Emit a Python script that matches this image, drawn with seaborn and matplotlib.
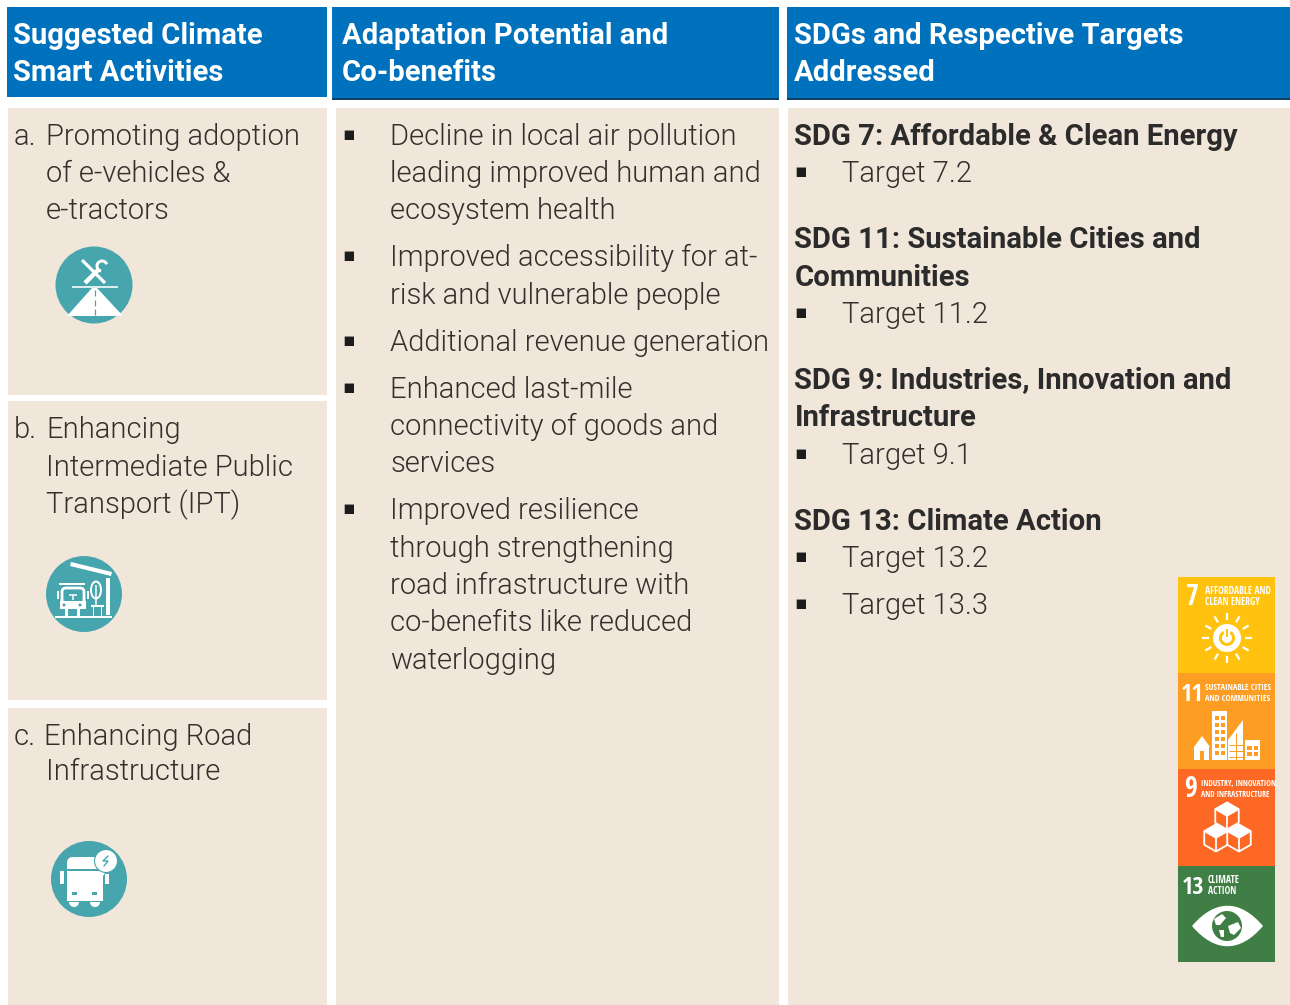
import numpy as np
import matplotlib
matplotlib.use('Agg')
import matplotlib.pyplot as plt
import seaborn as sns
from matplotlib.patches import Rectangle, Circle, Polygon, FancyBboxPatch, PathPatch, Wedge, Ellipse
from matplotlib.path import Path

# Table content
HEADERS = [
    ['Suggested Climate', 'Smart Activities'],
    ['Adaptation Potential and', 'Co-benefits'],
    ['SDGs and Respective Targets', 'Addressed'],
]
ACTIVITIES = [
    ('a.', ['Promoting adoption', 'of e-vehicles &', 'e-tractors']),
    ('b.', ['Enhancing', 'Intermediate Public', 'Transport (IPT)']),
    ('c.', ['Enhancing Road', 'Infrastructure']),
]
BENEFITS = [
    ['Decline in local air pollution', 'leading improved human and', 'ecosystem health'],
    ['Improved accessibility for at-', 'risk and vulnerable people'],
    ['Additional revenue generation'],
    ['Enhanced last-mile', 'connectivity of goods and', 'services'],
    ['Improved resilience', 'through strengthening', 'road infrastructure with', 'co-benefits like reduced', 'waterlogging'],
]
SDGS = [
    (['SDG 7: Affordable & Clean Energy'], ['Target 7.2']),
    (['SDG 11: Sustainable Cities and', 'Communities'], ['Target 11.2']),
    (['SDG 9: Industries, Innovation and', 'Infrastructure'], ['Target 9.1']),
    (['SDG 13: Climate Action'], ['Target 13.2', 'Target 13.3']),
]
TILE_NUMBERS = ['7', '11', '9', '13']
TILE_LABELS = [
    ['AFFORDABLE AND', 'CLEAN ENERGY'],
    ['SUSTAINABLE CITIES', 'AND COMMUNITIES'],
    ['INDUSTRY, INNOVATION', 'AND INFRASTRUCTURE'],
    ['CLIMATE', 'ACTION'],
]

BLUE = '#0071BC'
BEIGE = '#F0E6D9'
INK = '#332F2D'
TEAL = '#47A5AD'
TILE_COLORS = ['#FFC20E', '#FD9D24', '#FD6925', '#3F7E44']
NARROW = ['Open Sans Condensed', 'Roboto Condensed', 'DejaVu Sans']

sns.set_theme(style='white')
plt.rcParams['font.family'] = ['Roboto', 'DejaVu Sans']

fig = plt.figure(figsize=(12.9, 10.05), dpi=100, facecolor='white')
ax = fig.add_axes([0, 0, 1, 1])
ax.set_xlim(0, 1290)
ax.set_ylim(1005, 0)
ax.axis('off')
sns.despine(ax=ax, left=True, bottom=True)


def rect(x0, y0, x1, y1, color, z=1):
    ax.add_patch(Rectangle((x0, y0), x1 - x0, y1 - y0, fc=color, ec='none', zorder=z))


def line(x0, y0, x1, y1, color, w, z=4, cap='butt'):
    ax.plot([x0, x1], [y0, y1], color=color, lw=w * 0.72, solid_capstyle=cap, zorder=z)


def body(x, y, s):
    ax.text(x, y, s, fontsize=21.0, fontweight=300, color=INK, va='baseline', zorder=5)


def bold(x, y, s, color):
    ax.text(x, y, s, fontsize=21.1, fontweight='bold', color=color, va='baseline', zorder=5)


def bullet(x, y):
    ax.text(x, y, '\u25aa', fontsize=13.5, family='DejaVu Sans', color='#1c1c1c', va='baseline', ha='center', zorder=5)


def draw_frame():
    rect(7, 7, 327, 97, BLUE)
    rect(332, 7, 779, 99, BLUE)
    rect(787, 7, 1290, 99, BLUE)
    rect(332, 98, 779, 100, '#123f66')
    rect(787, 98, 1290, 100, '#123f66')
    rect(8, 108, 327, 395, BEIGE)
    rect(8, 401, 327, 700, BEIGE)
    rect(8, 708, 327, 1005, BEIGE)
    rect(336, 108, 779, 1005, BEIGE)
    rect(788, 108, 1290, 1005, BEIGE)
    for x, lines in zip([13, 342, 794], HEADERS):
        for y, s in zip([44, 81], lines):
            bold(x, y, s, 'white')


def draw_text():
    # column one, baselines follow the row tops
    starts = [[145, 182, 219], [438, 476, 513], [745, 780]]
    first_x = [46, 46, 44]
    for (mark, lines), ys, fx in zip(ACTIVITIES, starts, first_x):
        body(14, ys[0], mark)
        for k, (y, s) in enumerate(zip(ys, lines)):
            body(fx if k == 0 else 46, y, s)
    # column two
    ys = [[145, 182, 219], [266, 304], [351], [398, 435, 472], [519, 557, 594, 631, 669]]
    for lines, yy in zip(BENEFITS, ys):
        bullet(348.5, yy[0] - 5)
        for y, s in zip(yy, lines):
            body(390, y, s)
    # column three
    head_ys = [[145], [248, 286], [389, 426], [530]]
    target_ys = [[182], [323], [464], [567, 614]]
    for (heads, targets), hy, ty in zip(SDGS, head_ys, target_ys):
        for y, s in zip(hy, heads):
            bold(794.5, y - 0.5, s, '#2b2b2b')
        for y, s in zip(ty, targets):
            bullet(801, y - 5)
            body(842, y, s)


def icon_tools():
    ax.add_patch(Circle((94, 285), 38.5, fc=TEAL, ec='none', zorder=2))
    line(72, 287, 118, 287, 'white', 1.6)
    ax.add_patch(Polygon([(92, 288), (97, 288), (123, 316), (67, 316)], fc='white', ec='none', zorder=3))
    for y0 in (290, 300, 309):
        line(95, y0, 95, y0 + 6, TEAL, 1.2)
    line(82, 260, 105, 283, 'white', 3.2)
    line(85, 283, 99, 269, 'white', 4.5)
    ax.add_patch(Wedge((102, 266), 6.5, 100, 340, width=3, fc='white', ec='none', zorder=4))


def icon_stop():
    ax.add_patch(Circle((84, 594), 38, fc=TEAL, ec='none', zorder=2))
    ax.add_patch(Polygon([(71, 562), (112, 572), (111, 576), (70, 566)], fc='white', ec='none', zorder=3))
    rect(106, 578, 110, 615, 'white', 3)
    line(55, 617, 112, 617, 'white', 2, 3)
    line(59, 584, 85, 584, 'white', 2, 3)
    ax.add_patch(FancyBboxPatch((62, 588), 22, 19, boxstyle='round,pad=0,rounding_size=4', fc='none', ec='white', lw=2, zorder=3))
    rect(60, 601, 86, 609, 'white', 3)
    rect(65, 609, 68, 616, 'white', 3)
    rect(77, 609, 80, 616, 'white', 3)
    rect(57, 591, 59, 599, 'white', 3)
    rect(87, 591, 89, 599, 'white', 3)
    line(69, 595, 77, 595, 'white', 1.5, 3)
    line(73, 595, 73, 600, 'white', 1.5, 3)
    ax.add_patch(Circle((64, 605), 1.5, fc=TEAL, ec='none', zorder=4))
    ax.add_patch(Circle((80, 605), 1.5, fc=TEAL, ec='none', zorder=4))
    ax.add_patch(Ellipse((96, 590), 10, 17, fc=TEAL, ec='white', lw=1.4, zorder=3))
    line(96, 585, 96, 607, 'white', 1.5, 4)
    line(91, 606, 104, 606, 'white', 2, 3)
    line(93, 606, 93, 616, 'white', 1, 3)
    line(101, 606, 101, 616, 'white', 1, 3)


def icon_bus():
    ax.add_patch(Circle((89, 879), 38, fc=TEAL, ec='none', zorder=2))
    ax.add_patch(FancyBboxPatch((67, 857), 38, 20, boxstyle='round,pad=0,rounding_size=6', fc='white', ec='none', zorder=3))
    rect(67, 869, 103, 871, TEAL, 3)
    rect(67, 871, 103, 901, 'white', 3)
    rect(60, 871, 64, 884, 'white', 3)
    rect(105, 874, 109, 884, 'white', 3)
    rect(72, 892, 77, 895, TEAL, 4)
    rect(92, 892, 97, 895, TEAL, 4)
    ax.add_patch(Wedge((74, 902), 5, 0, 180, fc='white', ec='none', zorder=3))
    ax.add_patch(Wedge((95, 902), 5, 0, 180, fc='white', ec='none', zorder=3))
    ax.add_patch(Circle((106, 861), 11.5, fc='white', ec=TEAL, lw=0.8, zorder=4))
    ax.plot([108, 103, 108, 104], [856, 861, 861, 866], color=TEAL, lw=1, zorder=5)


def tile_sun():
    c = (1227, 638)
    ax.add_patch(Circle(c, 14, fc='white', ec='none', zorder=3))
    ax.add_patch(Wedge(c, 8, -60, 240, width=3, fc=TILE_COLORS[0], ec='none', zorder=4))
    line(c[0], c[1] - 9, c[0], c[1] - 1, TILE_COLORS[0], 2, 4)
    for deg in range(0, 360, 30):
        a = np.deg2rad(deg)
        line(c[0] + 18 * np.cos(a), c[1] + 18 * np.sin(a), c[0] + 25 * np.cos(a), c[1] + 25 * np.sin(a), 'white', 2.2, 3)


def tile_city():
    tone = TILE_COLORS[1]
    rect(1194, 747, 1209, 760, 'white', 3)
    ax.add_patch(Polygon([(1194, 747), (1202, 736), (1210, 747)], fc='white', ec='none', zorder=3))
    rect(1200, 751, 1204, 760, tone, 4)
    rect(1212, 711, 1227, 760, 'white', 3)
    for r in range(6):
        for x in (1215, 1221):
            rect(x, 716 + r * 7, x + 3.5, 720 + r * 7, tone, 4)
    ax.add_patch(Polygon([(1228, 740), (1243, 720), (1243, 760), (1228, 760)], fc='white', ec='none', zorder=3))
    for r in range(3):
        line(1229, 745 + r * 6, 1243, 745 + r * 6, tone, 1, 4)
    line(1236, 733, 1236, 760, tone, 1, 4)
    rect(1245, 740, 1260, 760, 'white', 3)
    for y in (746, 752):
        rect(1247, y, 1251.5, y + 3.5, tone, 4)
        rect(1253.5, y, 1258, y + 3.5, tone, 4)


def cube(cx, cy, r):
    dx = r * 0.87
    outer = [(cx, cy - r), (cx + dx, cy - r / 2), (cx + dx, cy + r / 2), (cx, cy + r), (cx - dx, cy + r / 2), (cx - dx, cy - r / 2)]
    ax.add_patch(Polygon(outer, fc=TILE_COLORS[2], ec='white', lw=1.3, joinstyle='round', zorder=3))
    ax.add_patch(Polygon([outer[0], outer[1], (cx, cy), outer[5]], fc='white', ec='white', lw=1, zorder=4))
    line(cx, cy, cx, cy + r, 'white', 1.8, 4)


def tile_cubes():
    cube(1227, 816, 13.5)
    cube(1216, 838, 13.5)
    cube(1239, 838, 13.5)


def tile_eye():
    verts = [(1192, 926), (1215, 899), (1240, 899), (1263, 926), (1240, 953), (1215, 953), (1192, 926)]
    codes = [Path.MOVETO, Path.CURVE4, Path.CURVE4, Path.CURVE4, Path.CURVE4, Path.CURVE4, Path.CURVE4]
    ax.add_patch(PathPatch(Path(verts, codes), fc='white', ec='none', zorder=3))
    ax.add_patch(Circle((1227, 926), 15, fc=TILE_COLORS[3], ec='none', zorder=4))
    ax.add_patch(Polygon([(1214, 919), (1222, 914), (1226, 918), (1220, 925), (1216, 925)], fc='white', ec='none', zorder=5))
    ax.add_patch(Polygon([(1228, 926), (1238, 922), (1241, 928), (1234, 935), (1230, 933)], fc='white', ec='none', zorder=5))
    ax.add_patch(Polygon([(1219, 930), (1224, 930), (1224, 937), (1221, 937)], fc='white', ec='none', zorder=5))


def draw_tiles():
    tops = [577, 673, 769, 866, 962]
    for i, color in enumerate(TILE_COLORS):
        rect(1178, tops[i], 1275, tops[i + 1], color, 2)
    num_x = [1192, 1192, 1191, 1193]
    num_size = [20, 17.5, 20, 17.5]
    lab_x = [1205, 1205, 1201, 1208]
    lab_size = [6.9, 6.1, 5.7, 6.9]
    for i, (num, lab) in enumerate(zip(TILE_NUMBERS, TILE_LABELS)):
        y0 = tops[i]
        ax.text(num_x[i], y0 + 28, num, family=NARROW, fontsize=num_size[i], fontweight='bold', color='white', ha='center', va='baseline', zorder=5)
        for j, s in enumerate(lab):
            ax.text(lab_x[i], y0 + 17 + j * 11, s, family=NARROW, fontsize=lab_size[i], fontweight='bold', color='white', va='baseline', zorder=5)
    tile_sun()
    tile_city()
    tile_cubes()
    tile_eye()


def main():
    draw_frame()
    draw_text()
    icon_tools()
    icon_stop()
    icon_bus()
    draw_tiles()
    fig.savefig('out.png', dpi=100, facecolor='white')


if __name__ == '__main__':
    main()
